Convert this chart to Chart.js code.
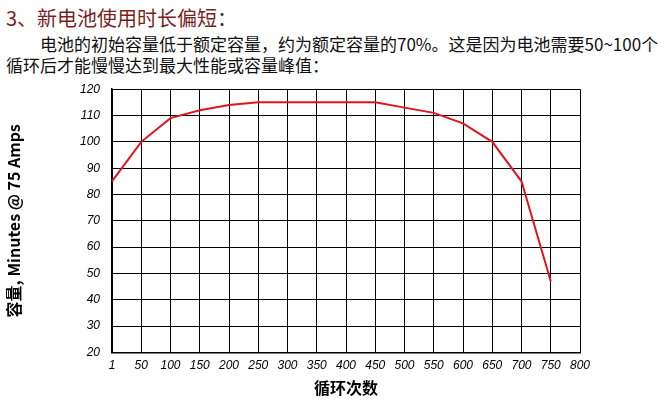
<!DOCTYPE html><html><head><meta charset="utf-8">
<script src="https://cdn.jsdelivr.net/npm/chart.js@4"></script>
<style>body{margin:0;width:672px;height:402px;background:#fff;font-family:"Noto Sans CJK SC",sans-serif;position:relative;overflow:hidden}
#t{position:absolute;left:6px;top:3px;font-size:20px;color:#7a1f1f}
#t span{color:#333}
#p{position:absolute;left:6px;top:33px;font-size:17px;line-height:21px;color:#111}
#c{position:absolute;left:0;top:70px;width:600px;height:332px}
</style></head><body>
<div id="t">3、新电池使用时长偏短<span>：</span></div>
<div id="p">&emsp;&emsp;电池的初始容量低于额定容量，约为额定容量的70%。这是因为电池需要50~100个<br>循环后才能慢慢达到最大性能或容量峰值：</div>
<div id="c"><canvas id="cv"></canvas></div>
<script>
const cycles=['1','50','100','150','200','250','300','350','400','450','500','550','600','650','700','750','800'];
const capacity=[85,100,109,112,114,115,115,115,115,115,113,111,107,100,85,47,null];
new Chart(document.getElementById('cv'),{type:'line',
data:{labels:cycles,datasets:[{data:capacity,borderColor:'#e0161c',borderWidth:2,pointRadius:0,tension:0}]},
options:{responsive:true,maintainAspectRatio:false,animation:false,
layout:{padding:{left:0,right:20,top:10,bottom:0}},
plugins:{legend:{display:false},tooltip:{enabled:false}},
scales:{
x:{offset:false,grid:{color:'#000',lineWidth:1,drawTicks:false},border:{color:'#000',width:1.5},
ticks:{color:'#000',font:{size:12,style:'italic',family:'Liberation Sans'},maxRotation:0,autoSkip:false,padding:6},
title:{display:true,text:'循环次数',color:'#000',font:{size:16,weight:'bold',family:'Noto Sans CJK SC'},padding:{top:0}}},
y:{min:20,max:120,grid:{color:'#000',lineWidth:1,drawTicks:false},border:{color:'#000',width:1.5},
ticks:{stepSize:10,color:'#000',font:{size:12,style:'italic',family:'Liberation Sans'},padding:12},
afterFit(s){s.width=112},
title:{display:true,text:'容量, Minutes @ 75 Amps',color:'#000',font:{size:16,weight:'bold',family:'Noto Sans CJK SC'},padding:{bottom:6}}}
}}});
</script></body></html>
